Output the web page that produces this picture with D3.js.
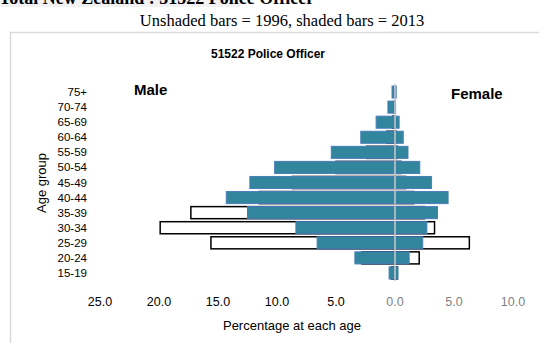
<!DOCTYPE html>
<html>
<head>
<meta charset="utf-8">
<script src="https://cdn.jsdelivr.net/npm/d3@7"></script>
<style>
  body { margin: 0; background: #fff; }
  svg { display: block; }
</style>
</head>
<body>
<div id="wrapper"></div>
<script>
// age groups, bottom to top
const ageGroups = ["15-19", "20-24", "25-29", "30-34", "35-39", "40-44", "45-49",
  "50-54", "55-59", "60-64", "65-69", "70-74", "75+"];
// percentages at each age
const male2013 = [0.5, 3.4, 6.6, 8.4, 12.5, 14.3, 12.3, 10.2, 5.4, 2.9, 1.6, 0.6, 0.25];
const female2013 = [0.25, 1.2, 2.35, 2.7, 3.6, 4.5, 3.1, 2.1, 1.1, 0.7, 0.35, 0.05, 0.1];
const male1996 = [0.3, 2.8, 15.6, 19.9, 17.3, 11.5, 8.7, 5.0, 2.4, 0.7, 0.2, 0.05, 0];
const female1996 = [0.2, 2.05, 6.3, 3.35, 2.5, 1.6, 0.9, 0.5, 0.2, 0.1, 0, 0, 0];
const xTicks = [-25, -20, -15, -10, -5, 0, 5, 10];

const width = 539, height = 343;
const svg = d3.select("#wrapper").append("svg")
  .attr("width", width).attr("height", height);

// page header
svg.append("rect").attr("x", 0).attr("y", 0).attr("width", 240).attr("height", 7).attr("fill", "#f2f2f2");
svg.append("text").attr("x", -1).attr("y", 4)
  .attr("font-family", "Liberation Serif").attr("font-weight", "bold").attr("font-size", 18)
  .text("Total New Zealand :  51522 Police Officer");
svg.append("text").attr("x", 282).attr("y", 26).attr("text-anchor", "middle")
  .attr("font-family", "Liberation Serif").attr("font-size", 16.5)
  .text("Unshaded bars = 1996, shaded bars = 2013");

// chart frame
svg.append("rect").attr("x", 10.5).attr("y", 32.5).attr("width", 600).attr("height", 400)
  .attr("fill", "#fff").attr("stroke", "#d9d9d9").attr("stroke-width", 1.5);

const font = "Liberation Sans";
svg.append("text").attr("x", 268).attr("y", 58).attr("text-anchor", "middle")
  .attr("font-family", font).attr("font-weight", "bold").attr("font-size", 12)
  .text("51522 Police Officer");

// scales
const x = d3.scaleLinear().domain([-25, 10]).range([100, 513]);
const y = d3.scaleBand().domain(ageGroups.slice().reverse())
  .range([84.5, 280.5]).paddingInner(0.2).paddingOuter(0.1);

const rows = ageGroups.map((g, i) => ({
  g: g, m13: male2013[i], f13: female2013[i], m96: male1996[i], f96: female1996[i]
}));

// 1996 bars (unshaded) behind
const old = svg.append("g");
old.selectAll(".m96").data(rows).enter().append("rect")
  .attr("x", d => x(-d.m96)).attr("y", d => y(d.g))
  .attr("width", d => x(0) - x(-d.m96)).attr("height", y.bandwidth())
  .attr("fill", "#fff").attr("stroke", "#000").attr("stroke-width", 1.5);
old.selectAll(".f96").data(rows).enter().append("rect")
  .attr("x", x(0)).attr("y", d => y(d.g))
  .attr("width", d => x(d.f96) - x(0)).attr("height", y.bandwidth())
  .attr("fill", "#fff").attr("stroke", "#000").attr("stroke-width", 1.5);

// 2013 bars (shaded)
const cur = svg.append("g");
cur.selectAll(".m13").data(rows).enter().append("rect")
  .attr("x", d => x(-d.m13)).attr("y", d => y(d.g))
  .attr("width", d => x(0) - x(-d.m13)).attr("height", y.bandwidth())
  .attr("fill", "#31859c").attr("stroke", "#4a7ebb").attr("stroke-width", 1);
cur.selectAll(".f13").data(rows).enter().append("rect")
  .attr("x", x(0)).attr("y", d => y(d.g))
  .attr("width", d => x(d.f13) - x(0)).attr("height", y.bandwidth())
  .attr("fill", "#31859c").attr("stroke", "#4a7ebb").attr("stroke-width", 1);

// centre line
svg.append("line").attr("x1", x(0)).attr("x2", x(0)).attr("y1", 84).attr("y2", 281)
  .attr("stroke", "#c8c8c8").attr("stroke-width", 1.5);

// y axis labels
svg.selectAll(".ylab").data(ageGroups).enter().append("text")
  .attr("x", 87).attr("y", d => y(d) + y.bandwidth() / 2 + 4)
  .attr("text-anchor", "end").attr("font-family", font).attr("font-size", 11.5)
  .attr("fill", "#000").text(d => d);

// x tick labels
svg.selectAll(".xlab").data(xTicks).enter().append("text")
  .attr("x", d => x(d)).attr("y", 306).attr("text-anchor", "middle")
  .attr("font-family", font).attr("font-size", 12.5)
  .attr("fill", d => d < 0 ? "#000" : "#7f7f7f")
  .text(d => Math.abs(d).toFixed(1));

svg.append("text").attr("x", 292).attr("y", 330).attr("text-anchor", "middle")
  .attr("font-family", font).attr("font-size", 13).text("Percentage at each age");
svg.append("text").attr("transform", "translate(46,183) rotate(-90)").attr("text-anchor", "middle")
  .attr("font-family", font).attr("font-size", 13).text("Age group");

svg.append("text").attr("x", 134).attr("y", 95)
  .attr("font-family", font).attr("font-weight", "bold").attr("font-size", 15).text("Male");
svg.append("text").attr("x", 451).attr("y", 99)
  .attr("font-family", font).attr("font-weight", "bold").attr("font-size", 15).text("Female");
</script>
</body>
</html>
